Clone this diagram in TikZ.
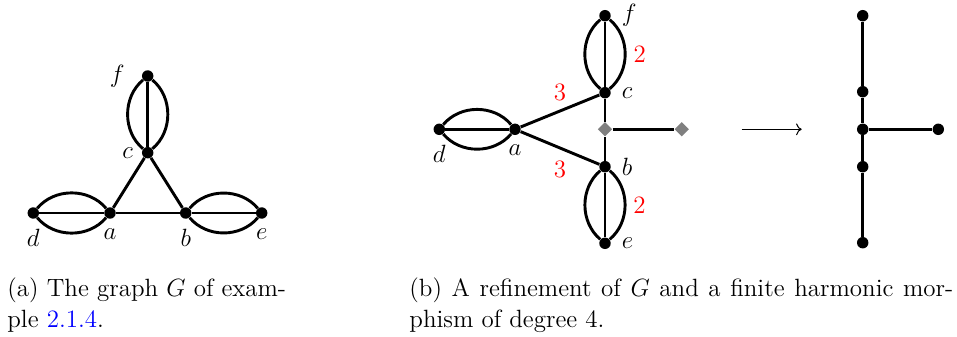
\documentclass[tikz,border=0pt]{standalone}
\usepackage{xcolor}
\usepackage{tikz}
\usetikzlibrary{shapes.geometric, arrows.meta}

\begin{document}
\begin{tikzpicture}[x=0.01689cm, y=0.01689cm,
  vtx/.style={circle, fill=black, inner sep=0pt, minimum size=5.5pt},
  sub/.style={diamond, fill=gray, inner sep=0pt, minimum size=7pt},
  lbl/.style={font=\large, inner sep=1pt},
  wt/.style={font=\large, text=red},
  edge/.style={line width=1.4pt},
  lens/.style={line width=1.4pt, bend left=50},
  captxt/.style={align=left, anchor=base west, inner sep=0pt, font=\fontsize{12}{14.5}\selectfont}
]
\useasboundingbox (0,0) rectangle (957,336);
% (a) the graph G
\node[vtx, label={[lbl, label distance=3.5pt]below:$d$}] (d) at (33.3,123) {};
\node[vtx, label={[lbl, label distance=3.5pt]below:$a$}] (a) at (110,123) {};
\node[vtx, label={[lbl, label distance=3.5pt]below:$b$}] (b) at (185.7,123) {};
\node[vtx, label={[lbl, label distance=3.5pt]below:$e$}] (e) at (261.7,123) {};
\node[vtx, label={[lbl, label distance=3pt]left:$c$}] (c) at (147.7,183.3) {};
\node[vtx, label={[lbl, label distance=7pt]left:$f$}] (f) at (147.7,260) {};
\draw[edge] (d) -- (a) -- (b) -- (e);
\draw[edge] (a) -- (c) -- (b);
\draw[edge] (c) -- (f);
\draw[lens] (d) to (a) (a) to (d);
\draw[lens] (b) to (e) (e) to (b);
\draw[lens] (c) to (f) (f) to (c);
% (b) refinement
\node[vtx, label={[lbl, label distance=3.5pt]below:$d$}] (d2) at (439.3,206.7) {};
\node[vtx, label={[lbl, label distance=3.5pt]below:$a$}] (a2) at (515,206.7) {};
\node[vtx, label={[lbl, label distance=4pt]right:$c$}] (c2) at (605,243.3) {};
\node[vtx, label={[lbl, label distance=4pt]right:$f$}] (f2) at (605,320.3) {};
\node[vtx, label={[lbl, label distance=4pt]right:$b$}] (b2) at (605,169.3) {};
\node[vtx, label={[lbl, label distance=4pt]right:$e$}] (e2) at (605,92.7) {};
\node[sub] (m2) at (605,206.7) {};
\node[sub] (r2) at (681.7,206.7) {};
\draw[edge] (d2) -- (a2);
\draw[lens] (d2) to (a2) (a2) to (d2);
\draw[edge] (a2) -- node[wt, above=1pt] {3} (c2);
\draw[edge] (a2) -- node[wt, below=2pt] {3} (b2);
\draw[edge] (c2) -- (m2) -- (b2);
\draw[edge] (m2) -- (r2);
\draw[edge] (c2) -- (f2);
\draw[lens] (c2) to (f2) (f2) to node[wt, right] {2} (c2);
\draw[edge] (b2) -- (e2);
\draw[lens] (b2) to node[wt, right] {2} (e2) (e2) to (b2);
% morphism
\coordinate (arrs) at (741.7,206.7);
\coordinate (arre) at (801.7,206.7);
\draw[->, line width=0.5pt] (arrs) -- (arre);
% target tree
\node[vtx] (t1) at (862.7,320.3) {};
\node[vtx] (t2) at (862.7,244.3) {};
\node[vtx] (t3) at (862.7,206.7) {};
\node[vtx] (t4) at (862.7,169.3) {};
\node[vtx] (t5) at (862.7,93.3) {};
\node[vtx] (t6) at (938.3,206.7) {};
\draw[edge] (t1) -- (t2) -- (t3) -- (t4) -- (t5);
\draw[edge] (t3) -- (t6);
% captions
\node[captxt] (capa) at (7,9) {(a) The graph $G$ of exam-\\ple \textcolor{blue}{2.1.4}.};
\node[captxt] (capb) at (409,9) {\makebox[261.4pt][s]{(b) A refinement of $G$ and a finite harmonic mor-}\\phism of degree 4.};
\end{tikzpicture}
\end{document}
